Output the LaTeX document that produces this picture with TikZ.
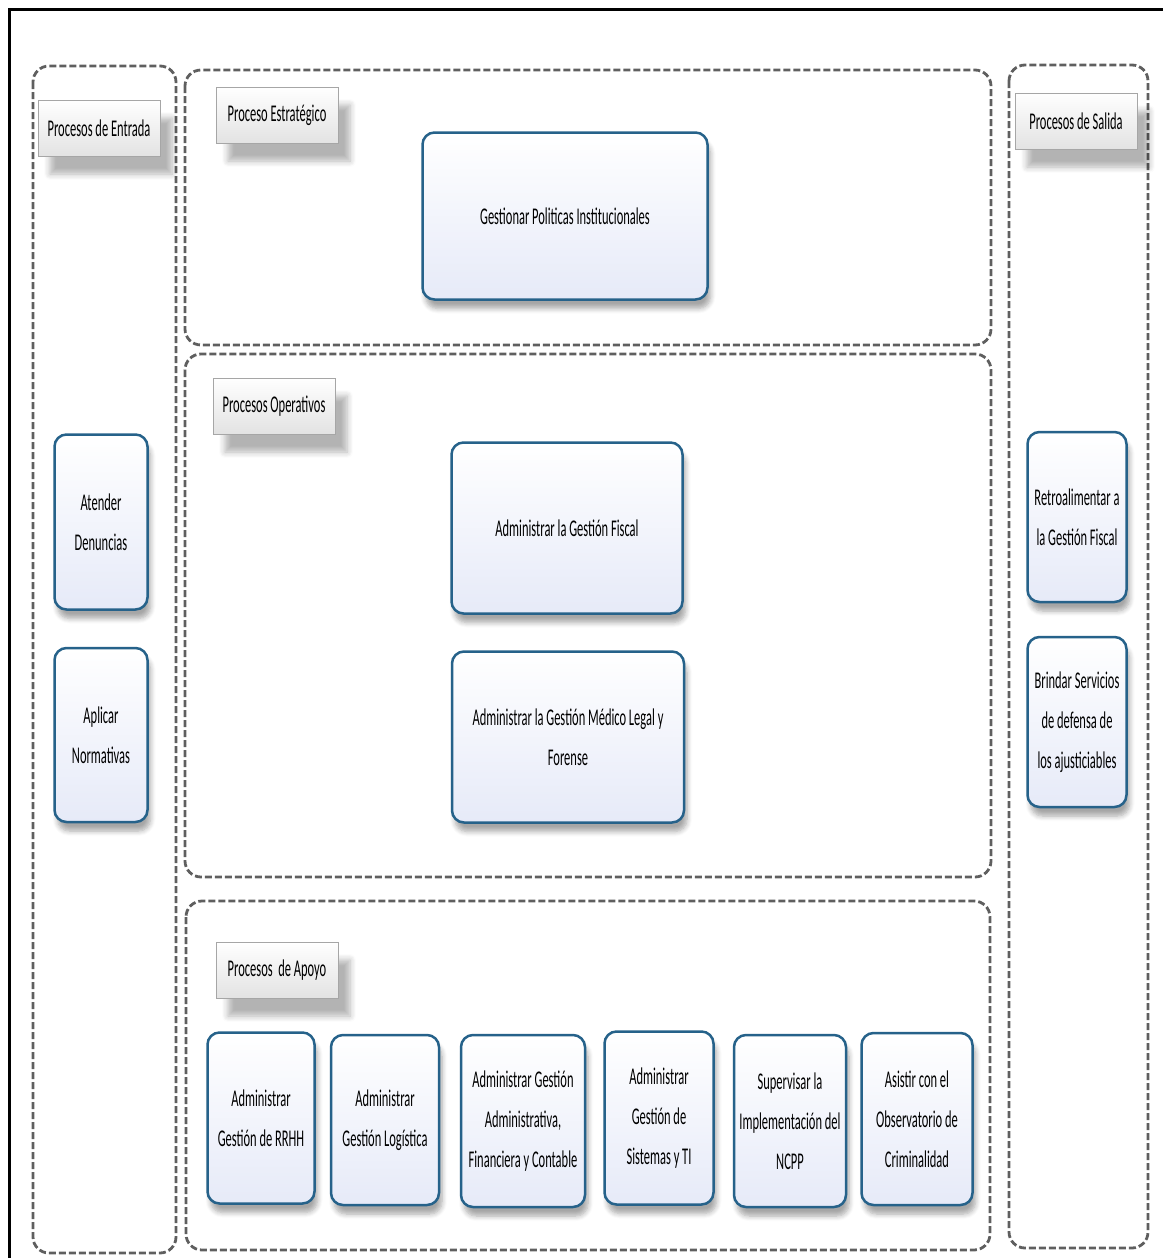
\documentclass[tikz,border=0pt]{standalone}
\usepackage{fontspec}
\newfontfamily\procfont[FakeStretch=0.52]{Carlito}
\usetikzlibrary{shapes,shadows,shadows.blur,positioning,calc}

\definecolor{boxblue}{RGB}{38,98,138}
\definecolor{boxfill}{RGB}{230,234,248}
\definecolor{lanegray}{RGB}{95,95,95}

\begin{document}
\begin{tikzpicture}[x=1pt, y=-1pt, align=center, font=\procfont\fontsize{24}{40}\selectfont]

%local definitions
\tikzstyle{Lane} = [draw=lanegray, line width=2.8pt, dash pattern=on 7pt off 3pt, rounded corners=16pt]
\tikzstyle{Process} = [draw=boxblue, line width=2.5pt, rounded corners=12pt, rectangle, top color=white, bottom color=boxfill, inner sep=2pt, blur shadow={shadow xshift=3pt, shadow yshift=-9pt, shadow opacity=35, shadow blur steps=6, shadow blur radius=5pt}]
\tikzstyle{LaneTitle} = [draw=gray!70, line width=0.8pt, rectangle, top color=white, bottom color=gray!22, minimum width=122pt, minimum height=56pt, blur shadow={shadow xshift=12pt, shadow yshift=-18pt, shadow opacity=30, shadow blur steps=6, shadow blur radius=6pt}]

\useasboundingbox (0,0) rectangle (1163,1258);

%frame
	\draw [line width=3pt] (9,1258) -- (9,9) -- (1163,9);

%lanes
	\draw [Lane] (33,66) rectangle (176,1253);
	\draw [Lane] (185,70) rectangle (991,345);
	\draw [Lane] (185,354) rectangle (991,877);
	\draw [Lane] (186,901) rectangle (990,1250);
	\draw [Lane] (1009,65) rectangle (1148,1248);

%lane names
	\node [LaneTitle] (titleEntrada) at (99,128) {Procesos de Entrada};
	\node [LaneTitle] (titleEstrategico) at (277,115) {Proceso Estratégico};
	\node [LaneTitle] (titleOperativos) at (274,406) {Procesos Operativos};
	\node [LaneTitle] (titleApoyo) at (277,970) {Procesos\ \ de Apoyo};
	\node [LaneTitle] (titleSalida) at (1076,121) {Procesos de Salida};

%strategic process
	\node [Process, minimum width=285pt, minimum height=167pt] (gestPoliticas) at (565,216) {Gestionar Politicas Institucionales};

%input processes
	\node [Process, minimum width=93pt, minimum height=175pt] (atenderDen) at (101,522) {Atender\\Denuncias};
	\node [Process, minimum width=93pt, minimum height=174pt] (aplicarNorm) at (101,735) {Aplicar\\Normativas};

%operative processes
	\node [Process, minimum width=231pt, minimum height=171pt] (gestFiscal) at (567,528) {Administrar la Gestión Fiscal};
	\node [Process, minimum width=232pt, minimum height=171pt] (gestMedico) at (568,737) {Administrar la Gestión Médico Legal y\\Forense};

%output processes
	\node [Process, minimum width=99pt, minimum height=170pt] (retroFiscal) at (1077,517) {Retroalimentar a\\la Gestión Fiscal};
	\node [Process, minimum width=99pt, minimum height=170pt] (brindarServ) at (1077,722) {Brindar Servicios\\de defensa de\\los ajusticiables};

%support processes
	\node [Process, minimum width=107pt, minimum height=171pt] (gestRRHH) at (261,1118) {Administrar\\Gestión de RRHH};
	\node [Process, minimum width=108pt, minimum height=170pt] (gestLogistica) at (385,1120) {Administrar\\Gestión Logística};
	\node [Process, minimum width=124pt, minimum height=172pt] (gestFinanciera) at (523,1121) {Administrar Gestión\\Administrativa,\\Financiera y Contable};
	\node [Process, minimum width=109pt, minimum height=173pt] (gestSistemas) at (659,1118) {Administrar\\Gestión de\\Sistemas y TI};
	\node [Process, minimum width=112pt, minimum height=172pt] (supNCPP) at (790,1121) {Supervisar la\\Implementación del\\NCPP};
	\node [Process, minimum width=111pt, minimum height=172pt] (asistirObs) at (917,1119) {Asistir con el\\Observatorio de\\Criminalidad};

\end{tikzpicture}
\end{document}
